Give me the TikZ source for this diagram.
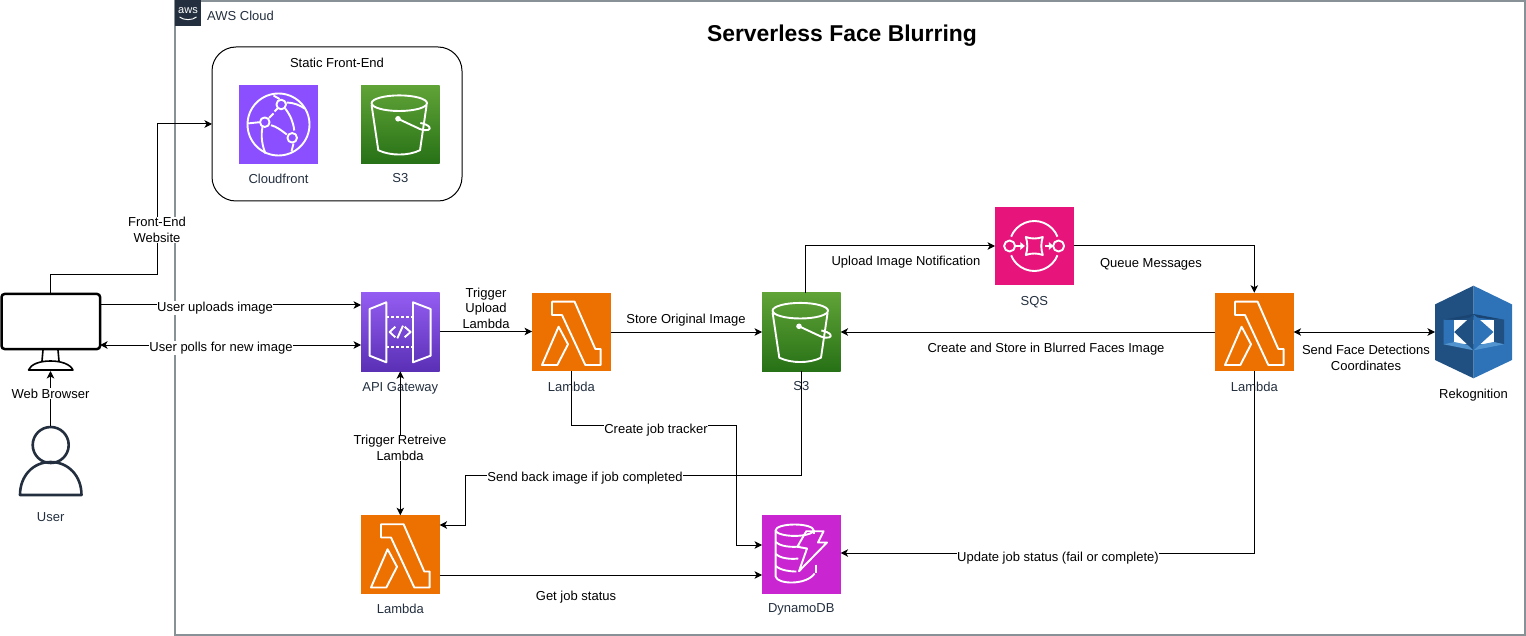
\documentclass[tikz,border=0pt]{standalone}
\usepackage{fontspec}
\setmainfont{Liberation Sans}
\usetikzlibrary{arrows.meta,calc}
\definecolor{awsgray}{HTML}{879196}
\definecolor{awsink}{HTML}{232F3E}
\definecolor{iconlabel}{HTML}{232F3E}
\definecolor{wire}{HTML}{000000}
\definecolor{rekdark}{HTML}{205081}
\definecolor{rekmid}{HTML}{2E73B8}
\definecolor{reklight}{HTML}{5294CF}
\definecolor{rekshade}{HTML}{1A4472}
\definecolor{cfpurple}{HTML}{8C4FFF}
\definecolor{s3top}{HTML}{60A337}
\definecolor{s3bot}{HTML}{277116}
\definecolor{apitop}{HTML}{945DF2}
\definecolor{apibot}{HTML}{5A30B5}
\definecolor{lambdaor}{HTML}{ED7100}
\definecolor{sqspink}{HTML}{E7157B}
\definecolor{ddbmag}{HTML}{C925D1}
\tikzset{
  x=1pt,y=-1pt,
  every node/.style={font=\fontsize{13}{15.5}\selectfont},
  iconbox/.style={rectangle,minimum size=78.5pt,inner sep=0pt,outer sep=0pt,draw=none},
  iconcap/.style={text=iconlabel,inner sep=0pt},
  lbl/.style={fill=white,inner sep=0.5pt,align=center,text=black},
  wireline/.style={draw=wire,line width=1pt,-{Stealth[length=7.5pt,width=7.5pt,inset=2pt]}},
  wiretwo/.style={draw=wire,line width=1pt,{Stealth[length=7.5pt,width=7.5pt,inset=2pt]}-{Stealth[length=7.5pt,width=7.5pt,inset=2pt]}},
  ink/.style={draw=white,line width=1.9pt,line join=round,fill=none},
  lambdaicon/.pic={
    \draw[ink] (-19.3,-30.3)--(3.3,-30.3)--(24,17)--(29.3,17)--(29.3,33)--(14,33)--(-9.3,-17)--(-19.3,-17)--cycle;
    \draw[ink] (-29.3,33)--(-12.7,-5.3)--(-3.3,12.3)--(-14,33)--cycle;
  },
  apiicon/.pic={
    \draw[ink] (-30.7,-23)--(-14,-29.7)--(-14,30.3)--(-30.7,23.7)--cycle;
    \draw[ink] (12.7,-29.7)--(30.3,-23)--(30.3,23.7)--(12.7,30.3)--cycle;
    \draw[ink,dash pattern=on 3pt off 2pt] (-14,-14.7)--(12.7,-14.7);
    \draw[ink,dash pattern=on 3pt off 2pt] (-14,15.3)--(12.7,15.3);
    \draw[ink] (-5,-5.3)--(-10.7,0)--(-5,5.3);
    \draw[ink] (4.3,-5.3)--(10.3,0)--(4.3,5.3);
    \draw[ink] (-3,6.3)--(2.7,-6.3);
  },
  sthreeicon/.pic={
    \draw[ink] (-1,-21.3) ellipse [x radius=27.7,y radius=7.8];
    \draw[ink] (-28.7,-19.3)--(-22,25.7) .. controls (-10,31.5) and (8,31.5) .. (19.7,25.7)--(26.3,-19.3);
    \fill[white] (-2.3,-5.7) circle (2.8);
    \draw[ink] (-2.3,-5.7)--(20,4.7) .. controls (27,7) and (31,5) .. (29,2.5) .. controls (28,1) and (24,-1) .. (20,-1.5);
  },
  sqsicon/.pic={
    \draw[ink] (22:25) arc (22:158:25);
    \draw[ink] (-22:25) arc (-22:-158:25);
    \draw[ink] (-24.7,0) circle (5.5);
    \draw[ink] (24.3,0) circle (5.5);
    \draw[ink] (-18,0)--(-12,0);
    \fill[white] (-9.5,0)--(-14,-4)--(-14,4)--cycle;
    \draw[ink] (11,0)--(15,0);
    \fill[white] (19,0)--(14.5,-4)--(14.5,4)--cycle;
    \draw[ink] (-8.5,-9) .. controls (-3,-7) and (3,-7) .. (8.5,-9) .. controls (6.5,-3) and (6.5,3) .. (8.5,9) .. controls (3,7) and (-3,7) .. (-8.5,9) .. controls (-6.5,3) and (-6.5,-3) .. (-8.5,-9) -- cycle;
  },
  cficon/.pic={
    \draw[ink] (0,0) circle (31);
    \draw[ink] (2.7,-20) circle (4.8);
    \draw[ink] (-13.7,-2.3) circle (4.8);
    \draw[ink] (13.7,13.3) circle (4.8);
    \draw[ink] (6.7,-16) .. controls (12,-9) and (15,-2) .. (15.7,6);
    \draw[ink] (-9.5,-6.5)--(-5,-11);
    \draw[ink] (-4,-13)--(-1,-16);
    \draw[ink] (-7.5,0.7) .. controls (-2,2) and (3,6) .. (8.3,10);
    \draw[ink] (-19,-2.3)--(-31,-1);
    \draw[ink] (-16,2.5) .. controls (-18,12) and (-16,22) .. (-13,29);
    \draw[ink] (1,-25.5)--(-5,-29);
    \draw[ink] (8,-22) .. controls (15,-22) and (22,-19) .. (26,-16);
    \draw[ink] (15,19)--(13,27);
  },
  ddbicon/.pic={
    \draw[ink] (-6.7,-24.3) ellipse [x radius=19,y radius=5.7];
    \draw[ink] (-25.7,-24.3)--(-25.7,22) .. controls (-24,30) and (5,31) .. (13.3,19);
    \draw[ink] (-25.7,-13) .. controls (-22,-8) and (-10,-7) .. (-1,-8);
    \draw[ink] (-25.7,-1) .. controls (-22,4) and (-10,5) .. (-3,4);
    \draw[ink] (-25.7,11) .. controls (-22,16) and (-10,17) .. (-5,17);
    \draw[ink] (12.3,-24.3)--(12.3,-21);
    \draw[ink] (14.5,10)--(14.5,18);
    \draw[ink] (5,-23.3)--(22.3,-23.3)--(16.7,-12)--(25.7,-12)--(-2.3,16.7)--(5.7,-6)--(-4,-7.7)--cycle;
  },
  rekicon/.pic={
    \fill[rekdark] (0,-46.3)--(-38.5,-27.6)--(-38.5,28)--(0,46.3)--cycle;
    \fill[rekmid] (0,-46.3)--(38.5,-27.6)--(38.5,28)--(0,46.3)--cycle;
    \fill[rekmid] (-30,-12.3)--(-19.3,-12.3)--(-19.3,10)--(-30,12.3)--cycle;
    \fill[rekdark] (20,-12.3)--(30.7,-12.3)--(30.7,12.3)--(20,10)--cycle;
    \fill[white] (-19.3,-12.3) rectangle (20,12);
    \fill[reklight] (-30,12.3)--(0,18.3)--(30.7,12.3)--(20,10)--(0,14)--(-19.3,10)--cycle;
    \fill[rekshade] (-30,-12.3)--(0,-18)--(30.7,-12.3)--(20,-12.3)--(0,-15)--(-19.3,-12.3)--cycle;
    \fill[rekdark] (0,-17.7)--(-19.3,0)--(0,18.3)--cycle;
    \fill[rekmid] (0,-17.7)--(20,0)--(0,18.3)--cycle;
  },
}
\begin{document}
\begin{tikzpicture}
\useasboundingbox (0,0) rectangle (1526,636);
% cloud frame
\node[draw=awsgray,line width=1.3pt,minimum width=1350pt,minimum height=634pt,inner sep=0pt,outer sep=0pt] (cloud) at (850,318) {};
\node[fill=awsink,minimum size=26pt,inner sep=0pt,outer sep=0pt] (awslogo) at (188,13.5) {};
\node[text=white,inner sep=0pt,font=\fontsize{11}{11}\selectfont] (awstxt) at (188,10.5) {aws};
\draw[white,line width=0.9pt] (179.5,17) .. controls (184,20.5) and (192,20.5) .. (196.5,17);
\node[text=iconlabel,anchor=west,inner sep=0pt] (awsname) at (207,15.5) {AWS Cloud};
\node[inner sep=0pt,font=\bfseries\fontsize{22.9}{28}\selectfont] (title) at (842,35.5) {Serverless Face Blurring};
% static front-end group
\node[draw=black,line width=1pt,rounded corners=24pt,minimum width=250pt,minimum height=154pt,inner sep=0pt,outer sep=0pt] (static) at (337,124) {};
\node[inner sep=0pt,text=black] (statict) at (337,62.5) {Static Front-End};
% icons
\node[iconbox,fill=cfpurple] (cf) at (278.5,124.5) {};
\pic at (cf) {cficon};
\node[iconcap] (cfl) at (278.5,178.5) {Cloudfront};
\node[iconbox,top color=s3top,bottom color=s3bot] (s3a) at (400.3,124.5) {};
\pic at (s3a) {sthreeicon};
\node[iconcap] (s3al) at (400.3,178.5) {S3};
\node[iconbox,top color=apitop,bottom color=apibot] (api) at (400.3,332) {};
\pic at (api) {apiicon};
\node[iconcap] (apil) at (400.3,388) {API Gateway};
\node[iconbox,fill=lambdaor] (la) at (571.3,332) {};
\pic at (la) {lambdaicon};
\node[iconcap] (lal) at (571.3,386.5) {Lambda};
\node[iconbox,top color=s3top,bottom color=s3bot] (s3b) at (801.3,332) {};
\pic at (s3b) {sthreeicon};
\node[iconcap] (s3bl) at (801.3,386.5) {S3};
\node[iconbox,fill=sqspink] (sqs) at (1034.3,246) {};
\pic at (sqs) {sqsicon};
\node[iconcap] (sqsl) at (1034.3,302) {SQS};
\node[iconbox,fill=lambdaor] (lc) at (1254.3,332) {};
\pic at (lc) {lambdaicon};
\node[iconcap] (lcl) at (1254.3,386.5) {Lambda};
\node[iconbox,fill=lambdaor] (lb) at (400.3,554.5) {};
\pic at (lb) {lambdaicon};
\node[iconcap] (lbl2) at (400.3,608.5) {Lambda};
\node[iconbox,fill=ddbmag] (ddb) at (801.3,554.5) {};
\pic at (ddb) {ddbicon};
\node[iconcap] (ddbl) at (801.3,609.5) {DynamoDB};
\node[minimum width=77pt,minimum height=92.6pt,inner sep=0pt,outer sep=0pt] (rek) at (1473.5,332) {};
\pic at (rek) {rekicon};
\node[inner sep=0pt,text=black] (rekl) at (1473.5,395) {Rekognition};
% monitor
\node[draw=black,line width=2.5pt,rounded corners=3pt,minimum width=98.5pt,minimum height=55pt,inner sep=0pt,outer sep=0pt] (mon) at (50.8,321.5) {};
\draw[black,line width=1.6pt] (43,350)--(42,361) (58,350)--(59,361);
\draw[black,line width=1.6pt,line join=round] (28.5,370) .. controls (31,364) and (40,361) .. (50.5,361) .. controls (61,361) and (70,364) .. (73,370) -- cycle;
\coordinate (monbase) at (50.5,371);
% user
\coordinate (userhead) at (50.5,426);
\draw[awsink,line width=2.6pt] (50.7,445) circle (18);
\draw[awsink,line width=2.6pt,line join=round] (20,495) .. controls (20,476) and (33,462) .. (50.7,462) .. controls (68.4,462) and (81.5,476) .. (81.5,495) -- cycle;
\node[iconcap] (userl) at (50.7,517.5) {User};
% connectors
\coordinate (monto) at (50.5,293);
\coordinate (j1) at (50.5,275);
\coordinate (j2) at (157,275);
\coordinate (j3) at (157,124);
\draw[wireline] (monto)--(j1)--(j2)--(j3)--(static.west);
\draw[wireline] ([yshift=16.5pt]mon.east)--([yshift=27pt]api.west);
\draw[wiretwo] ([yshift=-23.5pt]mon.east)--([yshift=-13pt]api.west);
\draw[wireline] (userhead)--(monbase);
\draw[wiretwo] (api.south)--(lb.north);
\draw[wireline] ([yshift=0.5pt]api.east)--([yshift=0.5pt]la.west);
\draw[wireline] (la.east)--(s3b.west);
\coordinate (b1) at (805,293);
\coordinate (b2) at (805,246);
\draw[wireline] (b1)--(b2)--(sqs.west);
\coordinate (c1) at (1254.3,246);
\draw[wireline] (sqs.east)--(c1)--(lc.north);
\draw[wireline] (lc.west)--(s3b.east);
\draw[wiretwo] (lc.east)--(rek.west);
\coordinate (d1) at (571.3,425);
\coordinate (d2) at (736,425);
\coordinate (d3) at (736,545);
\draw[wireline] (la.south)--(d1)--(d2)--(d3)--(ddb.west |- d3);
\coordinate (e1) at (801.3,475);
\coordinate (e2) at (465,475);
\coordinate (e3) at (465,525);
\draw[wireline] (s3b.south)--(e1)--(e2)--(e3)--(lb.east |- e3);
\coordinate (f1) at (400,575);
\draw[wireline] (lb.east |- f1)--(ddb.west |- f1);
\coordinate (g1) at (1254.3,553);
\draw[wireline] (lc.south)--(g1)--(ddb.east |- g1);
% labels
\node[lbl] (t1) at (157,230) {Front-End\\Website};
\node[lbl] (t2) at (215,308) {User uploads image};
\node[lbl] (t3) at (221,348) {User polls for new image};
\node[lbl] (t4) at (50.5,393.5) {Web Browser};
\node[lbl] (t5) at (400,448) {Trigger Retreive\\Lambda};
\node[lbl] (t6) at (486,308) {Trigger\\Upload\\Lambda};
\node[lbl] (t7) at (686,320.5) {Store Original Image};
\node[lbl] (t8) at (906,262) {Upload Image Notification};
\node[lbl] (t9) at (1151,264) {Queue Messages};
\node[lbl] (t10) at (1046,349) {Create and Store in Blurred Faces Image};
\node[lbl] (t11) at (1366,358) {Send Face Detections\\Coordinates};
\node[lbl] (t12) at (656,430) {Create job tracker};
\node[lbl] (t13) at (585,478) {Send back image if job completed};
\node[lbl] (t14) at (576,597) {Get job status};
\node[lbl] (t15) at (1058,558) {Update job status (fail or complete)};
\end{tikzpicture}
\end{document}
